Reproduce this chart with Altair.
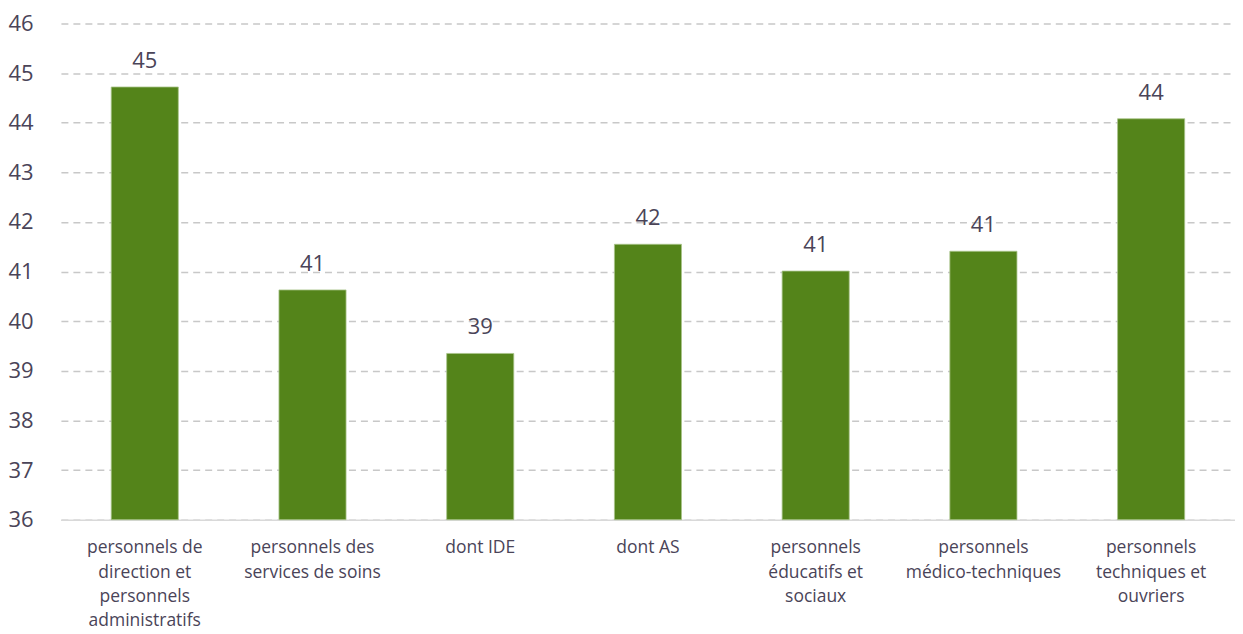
import altair as alt
import pandas as pd

categories = [
    "personnels de direction et personnels administratifs",
    "personnels des services de soins",
    "dont IDE",
    "dont AS",
    "personnels éducatifs et sociaux",
    "personnels médico-techniques",
    "personnels techniques et ouvriers",
]
wrapped = [
    "personnels de|direction et|personnels|administratifs",
    "personnels des|services de soins",
    "dont IDE",
    "dont AS",
    "personnels|éducatifs et|sociaux",
    "personnels|médico-techniques",
    "personnels|techniques et|ouvriers",
]
values = [44.72, 40.63, 39.35, 41.55, 41.01, 41.41, 44.08]

df = pd.DataFrame({"cat": categories, "wrapped": wrapped, "value": values})
df["label"] = df["value"].round(0).astype(int).astype(str)

label_map = "{" + ",".join(f"'{c}':'{w}'" for c, w in zip(categories, wrapped)) + "}"

FONT = "Open Sans"
TXT = "#4a4458"

x = alt.X("cat:N", sort=categories, title=None,
          scale=alt.Scale(paddingInner=0.6, paddingOuter=0.3),
          axis=alt.Axis(labelAngle=0, labelFont=FONT, labelFontSize=17.5, labelColor=TXT,
                        labelPadding=19, labelLineHeight=24.5, ticks=False, labelLimit=300,
                        domainColor="#d9d9d9", domainWidth=1.5, grid=False,
                        labelExpr="split(" + label_map + "[datum.label], '|')"))
y = alt.Y("value:Q", title=None,
          scale=alt.Scale(domain=[36, 46], nice=False, zero=False),
          axis=alt.Axis(values=list(range(36, 47)), labelFont=FONT, labelFontSize=22,
                        labelColor=TXT, labelPadding=53, ticks=False, domain=False,
                        grid=True, gridColor="#c8c8c8", gridDash=[7, 5], gridWidth=1.5,
                        labelAlign="left", labelFlush=False))

bars = alt.Chart(df).mark_bar(color="#54841A", stroke="#a9c48a", strokeWidth=0.8).encode(
    x=x, y=y, y2=alt.datum(36))
text = alt.Chart(df).mark_text(font=FONT, fontSize=22, color=TXT, baseline="alphabetic", dy=-19).encode(
    x=alt.X("cat:N", sort=categories), y="value:Q", text="label:N")

chart = (bars + text).properties(
    width=1176, height=497,
    autosize=alt.AutoSizeParams(type="none"),
    padding={"left": 53, "top": 15, "right": 0, "bottom": 113},
).configure_view(stroke=None)

chart.save("out.html", embed_options={"renderer": "svg", "actions": False})
